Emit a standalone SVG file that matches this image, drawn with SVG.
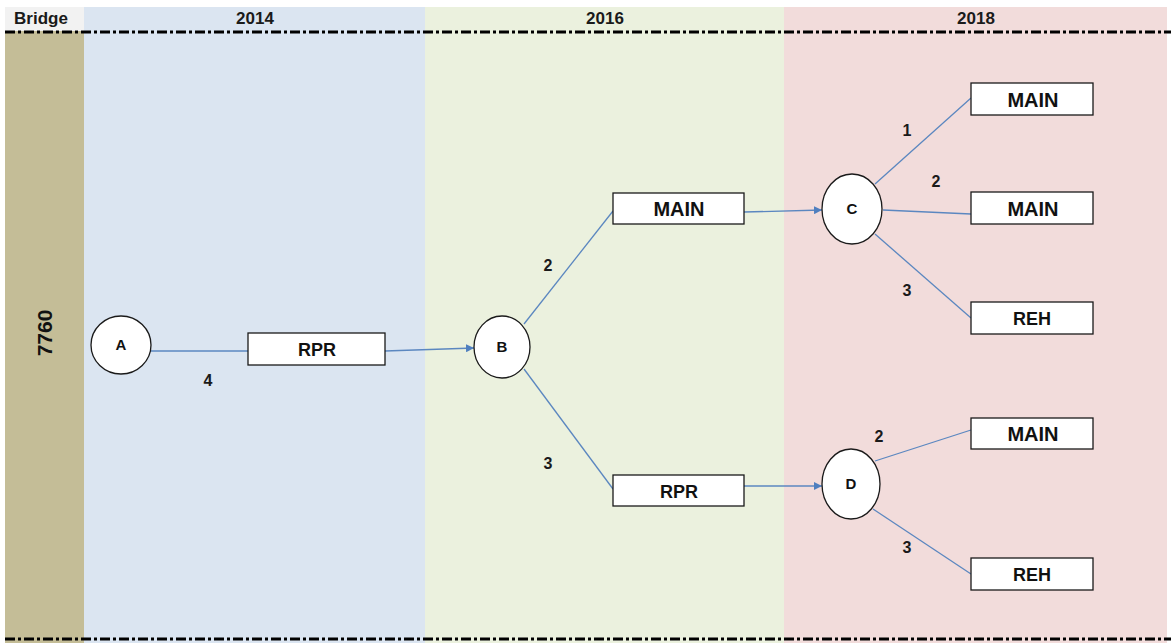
<svg xmlns="http://www.w3.org/2000/svg" width="1171" height="643" viewBox="0 0 1171 643">
  <style>
    .hdr { font-family: "Liberation Sans", Arial, sans-serif; font-weight: bold; font-size: 17px; fill: #1a1a1a; text-anchor: middle; }
    .box { fill: #ffffff; stroke: #1a1a1a; stroke-width: 1.3; }
    .circ { fill: #ffffff; stroke: #1a1a1a; stroke-width: 1.3; }
    .blabel { font-family: "Liberation Sans", Arial, sans-serif; font-weight: bold; font-size: 18px; fill: #111111; text-anchor: middle; }
    .main { font-size: 20px; }
    .idlabel { font-family: "Liberation Sans", Arial, sans-serif; font-weight: bold; font-size: 21px; fill: #111111; text-anchor: middle; }
    .clabel { font-family: "Liberation Sans", Arial, sans-serif; font-weight: bold; font-size: 15px; fill: #111111; text-anchor: middle; }
    .elabel { font-family: "Liberation Sans", Arial, sans-serif; font-weight: bold; font-size: 16px; fill: #1a1a1a; text-anchor: middle; }
    .edge { stroke: #5b87c0; stroke-width: 1.3; fill: none; }
    .dashdot { stroke: #000000; stroke-width: 3; stroke-dasharray: 10 3 3 3; fill: none; }
  </style>
  <defs>
    <marker id="arrow" viewBox="0 0 10 10" refX="10" refY="5" markerWidth="8" markerHeight="8" orient="auto" markerUnits="userSpaceOnUse">
      <path d="M0,0 L10,5 L0,10 z" fill="#4f7fbf"/>
    </marker>
  </defs>

  <!-- background and year columns -->
  <rect x="0" y="0" width="1171" height="643" fill="#ffffff"/>
  <rect x="5" y="7" width="79" height="24" fill="#f2f2f2"/>
  <rect x="5" y="31" width="79" height="612" fill="#c4bd97"/>
  <rect x="84" y="7" width="341" height="636" fill="#dbe5f1"/>
  <rect x="425" y="7" width="359" height="636" fill="#ebf1de"/>
  <rect x="784" y="7" width="383" height="636" fill="#f2dcdb"/>

  <!-- column headers -->
  <text class="hdr" x="41" y="24">Bridge</text>
  <text class="hdr" x="255" y="24">2014</text>
  <text class="hdr" x="605" y="24">2016</text>
  <text class="hdr" x="976" y="24">2018</text>

  <!-- dash-dot rules -->
  <line class="dashdot" x1="5" y1="32" x2="1171" y2="32"/>
  <line class="dashdot" x1="5" y1="639" x2="1171" y2="639"/>

  <!-- bridge id -->
  <text class="idlabel" transform="translate(52,333) rotate(-90)">7760</text>

  <!-- connectors -->
  <g id="connectors">
    <line class="edge" x1="151" y1="351" x2="248" y2="351"/>
    <line class="edge" x1="385" y1="351" x2="474" y2="348" marker-end="url(#arrow)"/>
    <line class="edge" x1="524" y1="324" x2="613" y2="211"/>
    <line class="edge" x1="524" y1="369" x2="613" y2="489"/>
    <line class="edge" x1="744" y1="212" x2="822" y2="210" marker-end="url(#arrow)"/>
    <line class="edge" x1="744" y1="486" x2="822" y2="486" marker-end="url(#arrow)"/>
    <line class="edge" x1="875" y1="184" x2="971" y2="98"/>
    <line class="edge" x1="883" y1="210" x2="971" y2="214"/>
    <line class="edge" x1="875" y1="234" x2="971" y2="318"/>
    <line class="edge" x1="875" y1="461" x2="971" y2="430"/>
    <line class="edge" x1="873" y1="509" x2="971" y2="574"/>
    <text class="elabel" x="208" y="386">4</text>
    <text class="elabel" x="548" y="271">2</text>
    <text class="elabel" x="548" y="469">3</text>
    <text class="elabel" x="907" y="136">1</text>
    <text class="elabel" x="936" y="187">2</text>
    <text class="elabel" x="907" y="296">3</text>
    <text class="elabel" x="879" y="442">2</text>
    <text class="elabel" x="907" y="553">3</text>
  </g>

  <!-- nodes -->
  <g id="node-A">
    <ellipse class="circ" cx="121" cy="345" rx="30" ry="29"/>
    <text class="clabel" x="121" y="350">A</text>
  </g>
  <g id="node-rpr-2014">
    <rect class="box" x="248" y="333" width="137" height="32"/>
    <text class="blabel" x="317" y="356">RPR</text>
  </g>
  <g id="node-B">
    <ellipse class="circ" cx="502" cy="347" rx="28" ry="31"/>
    <text class="clabel" x="502" y="352">B</text>
  </g>
  <g id="node-main-2016">
    <rect class="box" x="613" y="193" width="131" height="31"/>
    <text class="blabel main" x="679" y="216">MAIN</text>
  </g>
  <g id="node-rpr-2016">
    <rect class="box" x="613" y="475" width="131" height="31"/>
    <text class="blabel" x="679" y="498">RPR</text>
  </g>
  <g id="node-C">
    <ellipse class="circ" cx="852" cy="209" rx="30" ry="35"/>
    <text class="clabel" x="852" y="214">C</text>
  </g>
  <g id="node-D">
    <ellipse class="circ" cx="851" cy="484" rx="29" ry="35"/>
    <text class="clabel" x="851" y="489">D</text>
  </g>
  <g id="node-main-c1">
    <rect class="box" x="971" y="83" width="122" height="32"/>
    <text class="blabel main" x="1033" y="107">MAIN</text>
  </g>
  <g id="node-main-c2">
    <rect class="box" x="971" y="192" width="122" height="32"/>
    <text class="blabel main" x="1033" y="216">MAIN</text>
  </g>
  <g id="node-reh-c3">
    <rect class="box" x="971" y="302" width="122" height="32"/>
    <text class="blabel" x="1032" y="325">REH</text>
  </g>
  <g id="node-main-d2">
    <rect class="box" x="971" y="418" width="122" height="31"/>
    <text class="blabel main" x="1033" y="441">MAIN</text>
  </g>
  <g id="node-reh-d3">
    <rect class="box" x="971" y="558" width="122" height="32"/>
    <text class="blabel" x="1032" y="581">REH</text>
  </g>
</svg>
